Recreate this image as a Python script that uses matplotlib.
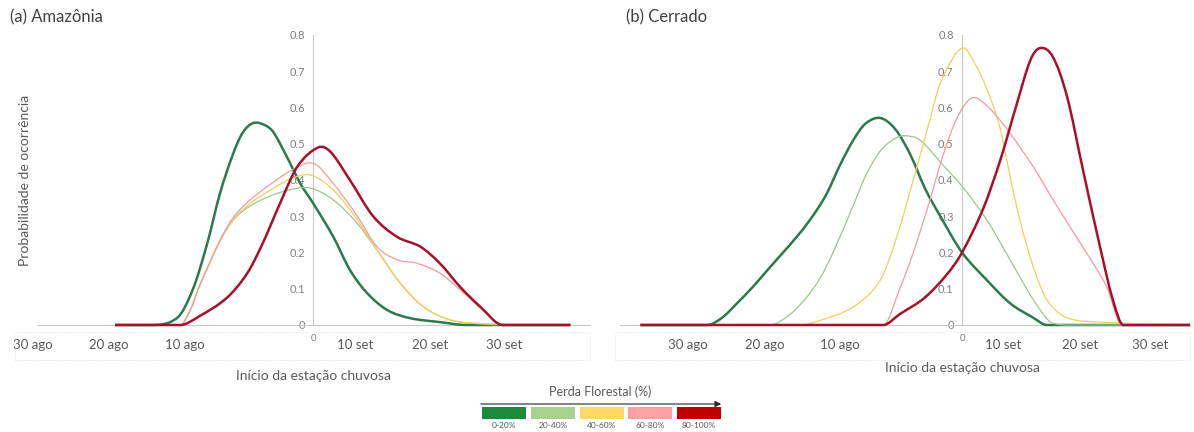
import numpy as np
import matplotlib.pyplot as plt
from matplotlib.path import Path
from matplotlib.patches import PathPatch, Rectangle, FancyArrowPatch

plt.rcParams['font.family'] = ['Lato', 'DejaVu Sans']

# dias em relação ao início de setembro (0)
# (a) Amazônia
am_x_0_20 = [-26.4, -21.7, -18.1, -16.0, -14.1, -12.4, -10.7, -9.4, -8.0, -6.5, -5.3, -3.5, -1.7, 0, 2.7, 4.9, 7.2, 9.9, 12.9, 16.9, 20.5, 34.3]
am_y_0_20 = [0, 0, 0.02, 0.10, 0.226, 0.364, 0.47, 0.53, 0.557, 0.552, 0.532, 0.464, 0.39, 0.336, 0.243, 0.152, 0.088, 0.041, 0.019, 0.008, 0, 0]
am_x_20_40 = [-26.4, -17.7, -16.4, -15.1, -13.7, -12.4, -10.7, -8.4, -5.7, -3.1, -0.4, 2.7, 5.9, 8.5, 11.6, 14.7, 18.3, 22.3, 27.6, 34.3]
am_y_20_40 = [0, 0, 0.04, 0.11, 0.175, 0.232, 0.288, 0.328, 0.356, 0.373, 0.378, 0.345, 0.28, 0.207, 0.116, 0.05, 0.014, 0.003, 0, 0]
am_x_40_60 = [-26.4, -17.7, -16.4, -15.1, -13.7, -12.4, -10.7, -8.4, -5.7, -3.1, -0.4, 2.7, 5.9, 8.5, 11.6, 14.7, 18.3, 22.3, 31.6, 34.3]
am_y_40_60 = [0, 0, 0.04, 0.11, 0.175, 0.232, 0.29, 0.335, 0.372, 0.402, 0.414, 0.372, 0.29, 0.207, 0.116, 0.05, 0.014, 0.004, 0, 0]
am_x_60_80 = [-26.4, -17.7, -16.4, -15.1, -13.7, -12.4, -10.7, -8.4, -5.7, -3.1, 0, 2.7, 5.9, 8.5, 11.2, 13.9, 16.9, 19.6, 22.7, 25.3, 34.3]
am_y_60_80 = [0, 0, 0.04, 0.11, 0.175, 0.235, 0.295, 0.345, 0.388, 0.424, 0.446, 0.39, 0.30, 0.216, 0.18, 0.17, 0.143, 0.097, 0.04, 0, 0]
am_x_80_100 = [-26.4, -17.7, -15.1, -11.5, -8.8, -6.7, -4.4, -2.1, 0.7, 2.3, 4.9, 8.0, 11.2, 14.3, 16.9, 19.6, 22.3, 25.3, 34.3]
am_y_80_100 = [0, 0, 0.025, 0.075, 0.142, 0.226, 0.336, 0.437, 0.49, 0.478, 0.40, 0.30, 0.243, 0.216, 0.17, 0.105, 0.05, 0, 0]

# (b) Cerrado
ce_x_0_20 = [-42.9, -34.0, -32.0, -30.0, -27.9, -26.0, -24.3, -21.6, -19.6, -18.0, -16.3, -14.5, -12.9, -10.9, -8.9, -6.9, -4.9, -2.9, 0, 3.3, 6.4, 9.5, 11.3, 30.4]
ce_y_0_20 = [0, 0, 0.02, 0.06, 0.105, 0.15, 0.19, 0.254, 0.31, 0.364, 0.44, 0.51, 0.555, 0.571, 0.54, 0.47, 0.375, 0.30, 0.2, 0.124, 0.06, 0.02, 0, 0]
ce_x_20_40 = [-42.9, -25.6, -22.9, -20.7, -18.9, -17.2, -14.5, -12.9, -10.9, -8.9, -7.6, -5.6, -2.5, 0.1, 3.3, 6.4, 9.5, 12.1, 14.4, 30.4]
ce_y_20_40 = [0, 0, 0.03, 0.077, 0.13, 0.2, 0.33, 0.41, 0.48, 0.515, 0.522, 0.51, 0.44, 0.38, 0.29, 0.18, 0.07, 0.005, 0, 0]
ce_x_40_60 = [-42.9, -21.6, -18.9, -14.5, -10.9, -8.7, -6.5, -4.3, -2.9, 0, 2.0, 3.7, 5.1, 6.4, 7.7, 9.5, 11.3, 14.0, 18.4, 30.4]
ce_y_40_60 = [0, 0, 0.013, 0.05, 0.124, 0.243, 0.40, 0.565, 0.667, 0.764, 0.71, 0.63, 0.54, 0.41, 0.29, 0.16, 0.07, 0.02, 0.008, 0]
ce_x_60_80 = [-42.9, -10.5, -8.3, -6.5, -4.5, -2.5, -0.7, 1.3, 3.3, 6.0, 9.5, 12.7, 16.1, 19.3, 21.3, 30.4]
ce_y_60_80 = [0, 0, 0.1, 0.2, 0.33, 0.47, 0.57, 0.626, 0.605, 0.54, 0.436, 0.326, 0.215, 0.105, 0, 0]
ce_x_80_100 = [-42.9, -10.5, -8.3, -5.0, -2.0, 0, 2.8, 5.1, 7.3, 9.1, 10.4, 12.1, 14.0, 16.1, 18.4, 20.1, 21.5, 30.4]
ce_y_80_100 = [0, 0, 0.03, 0.075, 0.14, 0.2, 0.32, 0.455, 0.61, 0.73, 0.764, 0.74, 0.63, 0.43, 0.215, 0.07, 0, 0]

classes = ['0-20%', '20-40%', '40-60%', '60-80%', '80-100%']
line_colors = ['#2b7a4b', '#9cc78a', '#f3cf5a', '#f29a9f', '#a8102a']
box_colors = ['#1a8c3c', '#a9d18e', '#ffd966', '#ff9fa3', '#c00000']
widths = [1.8, 0.9, 0.9, 0.9, 1.8]

x_ticks = ['30 ago', '20 ago', '10 ago', '10 set', '20 set', '30 set']
y_ticks = [0, 0.1, 0.2, 0.3, 0.4, 0.5, 0.6, 0.7, 0.8]


def smooth_path(x, y):
    # curva suave tipo Catmull-Rom, sem ondular nos trechos planos
    x = np.asarray(x, float)
    y = np.asarray(y, float)
    h = np.diff(x)
    s = np.diff(y) / h
    m = np.zeros_like(y)
    m[0], m[-1] = s[0], s[-1]
    for i in range(1, len(x) - 1):
        if s[i - 1] == 0 or s[i] == 0:
            continue
        m[i] = (y[i + 1] - y[i - 1]) / (x[i + 1] - x[i - 1])
        if s[i - 1] * s[i] > 0:
            lim = 3 * min(abs(s[i - 1]), abs(s[i]))
            m[i] = np.clip(m[i], -lim, lim)
    verts = [(x[0], y[0])]
    codes = [Path.MOVETO]
    for i in range(len(h)):
        verts += [(x[i] + h[i] / 3, y[i] + m[i] * h[i] / 3),
                  (x[i + 1] - h[i] / 3, y[i + 1] - m[i + 1] * h[i] / 3),
                  (x[i + 1], y[i + 1])]
        codes += [Path.CURVE4] * 3
    return Path(verts, codes)


fig = plt.figure(figsize=(11.94, 4.32), dpi=100)
ax1 = fig.add_axes([0.031, 0.2477, 0.4631, 0.6713])
ax2 = fig.add_axes([0.5193, 0.2477, 0.4774, 0.6713])

panels = [
    (ax1, [(am_x_0_20, am_y_0_20), (am_x_20_40, am_y_20_40), (am_x_40_60, am_y_40_60),
           (am_x_60_80, am_y_60_80), (am_x_80_100, am_y_80_100)],
     (-36.8, 36.9), [-37.3, -27.2, -17.1, 5.6, 15.6, 25.5], -0.176),
    (ax2, [(ce_x_0_20, ce_y_0_20), (ce_x_20_40, ce_y_20_40), (ce_x_40_60, ce_y_40_60),
           (ce_x_60_80, ce_y_60_80), (ce_x_80_100, ce_y_80_100)],
     (-45.6, 30.4), [-36.5, -26.3, -16.3, 5.5, 15.7, 25.1], -0.148),
]

for ax, series, xlim, tick_pos, xlab_y in panels:
    for (x, y), c, lw in zip(series, line_colors, widths):
        ax.add_patch(PathPatch(smooth_path(x, y), fill=False, edgecolor=c,
                               lw=lw, clip_on=False, zorder=3))
    ax.set_xlim(*xlim)
    ax.set_ylim(0, 0.8)
    for side in ['top', 'right']:
        ax.spines[side].set_visible(False)
    ax.spines['left'].set_position(('data', 0))
    ax.spines['left'].set_color('#c9c9c9')
    ax.spines['bottom'].set_color('#c9c9c9')
    ax.set_xticks([])
    ax.set_yticks(y_ticks)
    ax.set_yticklabels([f'{v:g}' for v in y_ticks])
    ax.tick_params(axis='y', length=0, pad=6, labelsize=8, labelcolor='#7f7f7f')
    ax.patch.set_alpha(0)

    tr = ax.get_xaxis_transform()
    for p, lab in zip(tick_pos, x_ticks):
        ax.text(p, -0.069, lab, transform=tr, ha='center', va='center',
                fontsize=9.5, color='#595959', clip_on=False)
    ax.text(0, -0.048, '0', transform=tr, ha='center', va='center',
            fontsize=7, color='#7f7f7f', clip_on=False)
    ax.text(0, xlab_y, 'Início da estação chuvosa', transform=tr, ha='center',
            va='center', fontsize=10, color='#595959', clip_on=False)

fig.text(10 / 1194, 1 - 17 / 432, '(a) Amazônia', fontsize=12, color='#404040', va='center')
fig.text(626 / 1194, 1 - 17 / 432, '(b) Cerrado', fontsize=12, color='#404040', va='center')
fig.text(25 / 1194, 1 - 180 / 432, 'Probabilidade de ocorrência', rotation=90,
         fontsize=10, color='#595959', ha='center', va='center')

# caixas pontilhadas em volta dos rótulos do eixo x
for x0, x1 in [(15, 590), (615, 1190)]:
    fig.add_artist(Rectangle((x0 / 1194, 72 / 432), (x1 - x0) / 1194, 28 / 432,
                             transform=fig.transFigure, fill=False,
                             edgecolor='#e0e0e0', lw=0.6, ls=':'))

# legenda: seta de perda florestal e caixas de cor
fig.text(600 / 1194, 1 - 392 / 432, 'Perda Florestal (%)', ha='center', va='center',
         fontsize=9, color='#595959')
fig.add_artist(FancyArrowPatch((478 / 1194, 1 - 404 / 432), (724 / 1194, 1 - 404 / 432),
                               transform=fig.transFigure, arrowstyle='-|>',
                               mutation_scale=9, lw=0.8, color='#262626'))
box_left = [482, 531, 580, 628, 677]
for bx, c, lab in zip(box_left, box_colors, classes):
    fig.add_artist(Rectangle((bx / 1194, 13 / 432), 44 / 1194, 12 / 432,
                             transform=fig.transFigure, facecolor=c, edgecolor='none'))
    fig.text((bx + 22) / 1194, 6.5 / 432, lab, ha='center', va='center',
             fontsize=6, color='#595959')

fig.savefig('out.png', dpi=100)
